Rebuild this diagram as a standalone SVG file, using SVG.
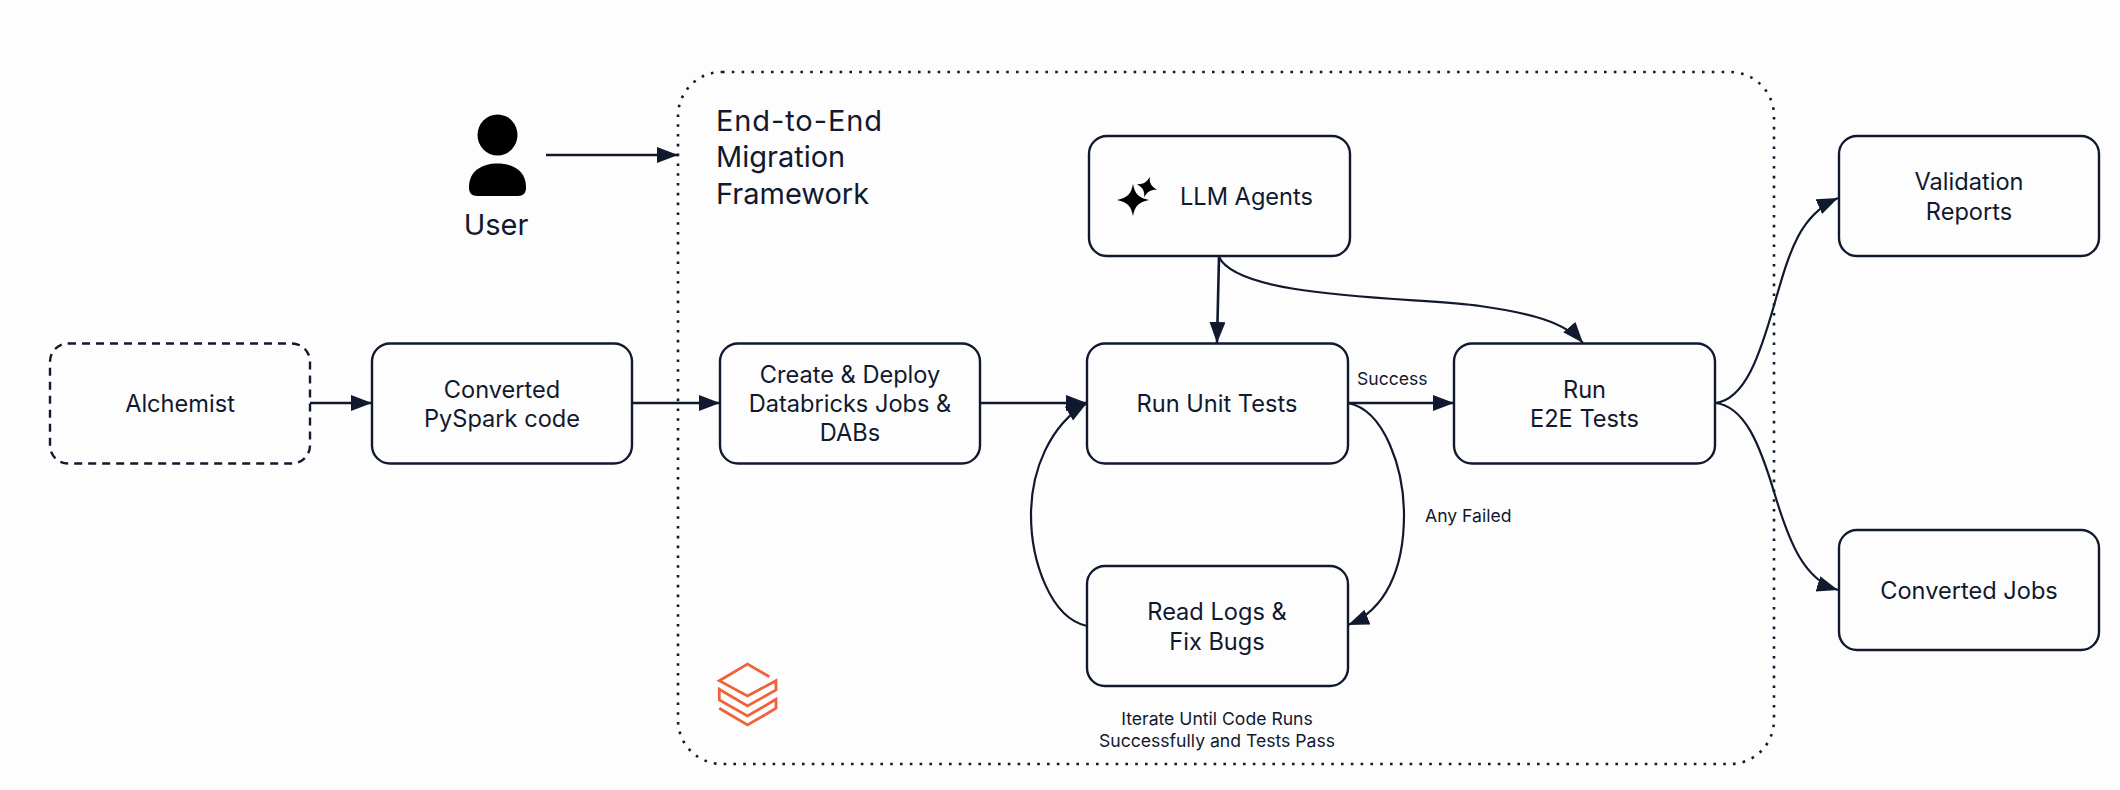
<svg xmlns="http://www.w3.org/2000/svg" width="2120" height="790" viewBox="0 0 2120 790">
<style>
text{font-family:"Inter","Noto Sans","Liberation Sans",sans-serif;fill:#11192e}
.b{fill:#fdfdfe;stroke:#11192e;stroke-width:2.4}
.t{font-size:23.6px;text-anchor:middle}
.s{font-size:17.6px}
.c{text-anchor:middle}
.l{fill:none;stroke:#11192e;stroke-width:2.6}
.k{fill:none;stroke:#11192e;stroke-width:2.2}
.logo{fill:none;stroke:#f0633a;stroke-width:2.8}
</style>
<defs>
<marker id="a" markerUnits="userSpaceOnUse" markerWidth="24" markerHeight="20" refX="21" refY="8" orient="auto"><path d="M0 0L21 8L0 16Z" fill="#11192e"/></marker>
</defs>
<rect width="2120" height="790" fill="#fdfdfe"/>
<g id="frame">
<rect x="678" y="72" width="1096" height="692" rx="44" fill="none" stroke="#11192e" stroke-width="2.6" stroke-dasharray="2.6 7.2"/>
<text x="716" y="131" font-size="29" letter-spacing="0.9">End-to-End</text>
<text x="716" y="167" font-size="29">Migration</text>
<text x="716" y="204" font-size="29">Framework</text>
</g>
<g id="connectors">
<path class="l" d="M546 155H678" marker-end="url(#a)"/>
<path class="l" d="M310 403H372" marker-end="url(#a)"/>
<path class="l" d="M632 403H720" marker-end="url(#a)"/>
<path class="l" d="M980 403H1087" marker-end="url(#a)"/>
<path class="l" d="M1348 403H1454" marker-end="url(#a)"/>
<path class="l" d="M1219 257L1217 343" marker-end="url(#a)"/>
<path class="k" d="M1219 257C1240 300 1420 297 1480 306C1530 313 1565 322 1583 343" marker-end="url(#a)"/>
<path class="k" d="M1348 403C1385 410 1404 470 1404 515C1404 570 1385 610 1348 625" marker-end="url(#a)"/>
<path class="k" d="M1087 626C1050 618 1031 560 1031 515C1031 470 1050 425 1087 403" marker-end="url(#a)"/>
<path class="k" d="M1715 403C1745 400 1760 355 1775 302C1790 250 1800 215 1838 198" marker-end="url(#a)"/>
<path class="k" d="M1715 403C1745 406 1760 445 1775 495C1790 545 1805 580 1838 590" marker-end="url(#a)"/>
</g>
<g id="user">
<ellipse cx="497.5" cy="135" rx="20" ry="20.5" fill="#000"/>
<path d="M469 187C469 171 482 163.500 497.500 163.500C513 163.500 526 171 526 187V188C526 193 523 196 518 196H477C472 196 469 193 469 188Z" fill="#000"/>
<text class="c" x="496" y="235" font-size="29">User</text>
</g>
<g id="alchemist">
<rect class="b" x="50" y="343.500" width="260" height="120" rx="18" stroke-dasharray="8 6"/>
<text class="t" x="180" y="412">Alchemist</text>
</g>
<g id="pyspark">
<rect class="b" x="372" y="343.500" width="260" height="120" rx="18"/>
<text class="t" x="502" y="398">Converted</text>
<text class="t" x="502" y="427">PySpark code</text>
</g>
<g id="deploy">
<rect class="b" x="720" y="343.500" width="260" height="120" rx="18"/>
<text class="t" x="850" y="383">Create &amp; Deploy</text>
<text class="t" x="850" y="412">Databricks Jobs &amp;</text>
<text class="t" x="850" y="441">DABs</text>
</g>
<g id="llm">
<rect class="b" x="1089" y="136" width="261" height="120" rx="18"/>
<path d="M1133 184C1135 194.500 1138.500 197.500 1149 200C1138.500 202.500 1135 205.500 1133 216C1131 205.500 1127.500 202.500 1117 200C1127.500 197.500 1131 194.500 1133 184Z" fill="#000"/>
<path d="M1147 176.500C1148.500 183 1151 185.500 1157.500 187C1151 188.500 1148.500 191 1147 197.500C1145.500 191 1143 188.500 1136.500 187C1143 185.500 1145.500 183 1147 176.500Z" fill="#000" stroke="#fdfdfe" stroke-width="1.5" paint-order="stroke" transform="rotate(15 1147 187)"/>
<text class="t" x="1246.500" y="205">LLM Agents</text>
</g>
<g id="unit">
<rect class="b" x="1087" y="343.500" width="261" height="120" rx="18"/>
<text class="t" x="1217" y="412">Run Unit Tests</text>
</g>
<g id="e2e">
<rect class="b" x="1454" y="343.500" width="261" height="120" rx="18"/>
<text class="t" x="1584.500" y="398">Run</text>
<text class="t" x="1584.500" y="427">E2E Tests</text>
</g>
<g id="logs">
<rect class="b" x="1087" y="566" width="261" height="120" rx="18"/>
<text class="t" x="1217" y="620">Read Logs &amp;</text>
<text class="t" x="1217" y="650">Fix Bugs</text>
</g>
<g id="reports">
<rect class="b" x="1839" y="136" width="260" height="120" rx="18"/>
<text class="t" x="1969" y="190">Validation</text>
<text class="t" x="1969" y="220">Reports</text>
</g>
<g id="jobs">
<rect class="b" x="1839" y="530" width="260" height="120" rx="18"/>
<text class="t" x="1969" y="599">Converted Jobs</text>
</g>
<g id="labels">
<text class="s" x="1357" y="385">Success</text>
<text class="s" x="1425" y="522">Any Failed</text>
<text class="s c" x="1217" y="725">Iterate Until Code Runs</text>
<text class="s c" x="1217" y="747">Successfully and Tests Pass</text>
</g>
<g id="databricks">
<path class="logo" d="M769.300 676.700L747.500 664L719.300 680.700L747.500 696L776 680.700V690L747.500 706L719.300 689.300V700L747.500 716L776 699.300V708.300L747.500 725L719.300 708.300"/>
</g>
</svg>
